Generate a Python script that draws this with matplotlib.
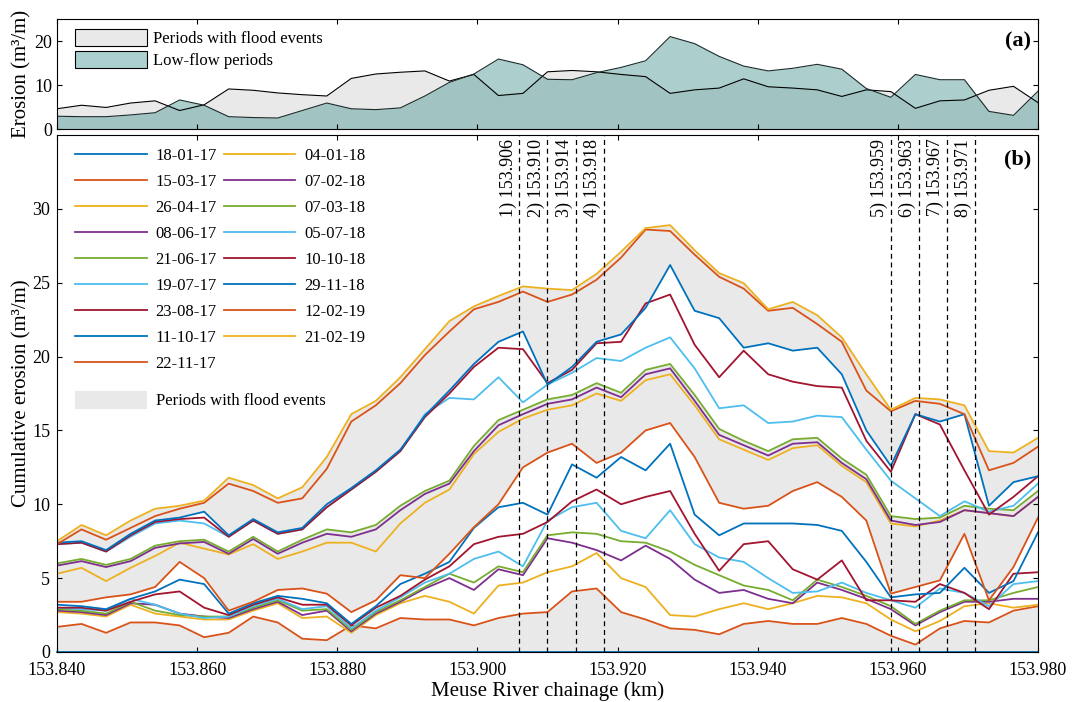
import numpy as np
import matplotlib
matplotlib.use("Agg")
import matplotlib.pyplot as plt
from matplotlib.patches import Patch

plt.rc("font", family=["Liberation Serif", "DejaVu Serif"], size=12)
plt.rc(["xtick", "ytick"], direction="in", labelsize=13)
plt.rc("xtick", top=True)
plt.rc("ytick", right=True)
plt.rc("axes", linewidth=0.8, labelsize=15)

# chainage grid (km) shared by every series
CHAINAGE = [153.8400, 153.8435, 153.8470, 153.8505, 153.8540, 153.8575, 153.8610,
            153.8645, 153.8680, 153.8715, 153.8750, 153.8785, 153.8820, 153.8855,
            153.8890, 153.8925, 153.8960, 153.8995, 153.9030, 153.9065, 153.9100,
            153.9135, 153.9170, 153.9205, 153.9240, 153.9275, 153.9310, 153.9345,
            153.9380, 153.9415, 153.9450, 153.9485, 153.9520, 153.9555, 153.9590,
            153.9625, 153.9660, 153.9695, 153.9730, 153.9765, 153.9800]

# panel (a): erosion per period type
FLOOD_EROSION = [4.6, 5.4, 4.9, 5.9, 6.4, 4.2, 5.5, 9.1, 8.8, 8.2, 7.8, 7.5, 11.5, 12.5,
                 12.9, 13.2, 10.9, 12.4, 7.6, 8.1, 13.0, 13.3, 13.0, 12.4, 11.9, 8.1,
                 8.9, 9.3, 11.4, 9.6, 9.3, 8.9, 7.4, 8.9, 8.5, 4.7, 6.4, 6.6, 8.8, 9.7, 6.0]
LOWFLOW_EROSION = [2.9, 2.8, 2.8, 3.2, 3.7, 6.6, 5.4, 2.8, 2.6, 2.5, 4.2, 5.9, 4.6, 4.4,
                   4.8, 7.5, 10.6, 12.5, 15.9, 14.6, 11.3, 11.2, 12.8, 14.0, 15.5, 21.0,
                   19.4, 16.5, 14.3, 13.2, 13.8, 14.7, 13.6, 9.2, 7.2, 12.4, 11.2, 11.2,
                   4.0, 3.1, 8.6]

# panel (b): cumulative erosion since 18-01-17
DATES = ["18-01-17", "15-03-17", "26-04-17", "08-06-17", "21-06-17", "19-07-17",
         "23-08-17", "11-10-17", "22-11-17", "04-01-18", "07-02-18", "07-03-18",
         "05-07-18", "10-10-18", "29-11-18", "12-02-19", "21-02-19"]

CUM_18_01_17 = [0.0] * 41
CUM_15_03_17 = [1.7, 1.9, 1.3, 2.0, 2.0, 1.8, 1.0, 1.3, 2.4, 2.0, 0.9, 0.8, 1.8, 1.6,
                2.3, 2.2, 2.2, 1.8, 2.3, 2.6, 2.7, 4.1, 4.3, 2.7, 2.2, 1.6, 1.5, 1.2,
                1.9, 2.1, 1.9, 1.9, 2.3, 1.9, 1.1, 0.5, 1.6, 2.1, 2.0, 2.8, 3.1]
CUM_26_04_17 = [2.7, 2.6, 2.4, 3.2, 2.6, 2.4, 2.2, 2.2, 2.8, 3.3, 2.3, 2.4, 1.3, 2.5,
                3.3, 3.8, 3.4, 2.6, 4.5, 4.7, 5.4, 5.8, 6.7, 5.0, 4.4, 2.5, 2.4, 2.9,
                3.3, 2.9, 3.3, 3.8, 3.7, 3.3, 2.2, 1.4, 2.1, 3.1, 3.3, 3.0, 3.2]
CUM_08_06_17 = [2.8, 2.7, 2.5, 3.3, 3.2, 2.6, 2.4, 2.3, 2.9, 3.4, 2.5, 2.8, 1.4, 2.6,
                3.4, 4.3, 5.0, 4.2, 5.6, 5.2, 7.7, 7.4, 6.9, 6.2, 7.2, 6.3, 4.9, 4.0,
                4.2, 3.6, 3.3, 4.7, 4.2, 3.6, 2.9, 1.8, 2.7, 3.4, 3.4, 3.6, 3.6]
CUM_21_06_17 = [2.9, 2.8, 2.6, 3.4, 2.8, 2.5, 2.4, 2.4, 3.0, 3.5, 2.8, 2.9, 1.5, 2.7,
                3.5, 4.4, 5.3, 4.7, 5.8, 5.4, 7.9, 8.1, 8.0, 7.5, 7.4, 6.8, 5.9, 5.2,
                4.5, 4.2, 3.5, 4.9, 4.4, 3.8, 3.1, 1.9, 2.8, 3.5, 3.5, 4.0, 4.4]
CUM_19_07_17 = [3.0, 2.9, 2.8, 3.6, 3.2, 2.6, 2.3, 2.4, 3.1, 3.6, 2.9, 3.1, 1.6, 2.8,
                3.7, 4.7, 5.3, 6.3, 6.8, 5.8, 8.9, 9.8, 10.1, 8.2, 7.7, 9.6, 7.3, 6.4,
                6.1, 5.0, 4.0, 4.1, 4.7, 4.0, 3.5, 3.0, 4.3, 4.0, 3.1, 4.6, 4.8]
CUM_23_08_17 = [3.0, 3.0, 2.8, 3.4, 3.9, 4.1, 3.0, 2.5, 3.2, 3.7, 3.2, 3.2, 1.8, 3.0,
                3.8, 4.9, 5.8, 7.3, 7.8, 8.0, 8.8, 10.2, 11.0, 10.0, 10.5, 10.9, 8.0, 5.5,
                7.3, 7.5, 5.6, 4.9, 6.2, 3.5, 3.5, 3.4, 4.6, 4.0, 2.9, 5.3, 5.4]
CUM_11_10_17 = [3.2, 3.1, 2.9, 3.6, 4.1, 4.9, 4.6, 2.6, 3.3, 3.8, 3.6, 3.3, 1.9, 3.1,
                4.6, 5.3, 6.1, 8.4, 9.8, 10.1, 9.3, 12.7, 11.8, 13.2, 12.3, 14.1, 9.3, 7.9,
                8.7, 8.7, 8.7, 8.6, 8.2, 6.1, 3.7, 3.9, 4.0, 5.7, 4.0, 4.8, 8.1]
CUM_22_11_17 = [3.4, 3.4, 3.7, 3.9, 4.4, 6.1, 5.0, 2.8, 3.4, 4.2, 4.3, 3.95, 2.7, 3.5,
                5.2, 5.0, 6.65, 8.45, 10.0, 12.5, 13.5, 14.1, 12.8, 13.5, 15.0, 15.5, 13.2,
                10.1, 9.7, 9.9, 10.9, 11.5, 10.5, 8.9, 3.95, 4.4, 4.85, 8.0, 3.5, 5.75, 9.1]
CUM_04_01_18 = [5.3, 5.7, 4.8, 5.7, 6.5, 7.4, 7.0, 6.6, 7.3, 6.3, 6.8, 7.4, 7.4, 6.8,
                8.7, 10.1, 11.0, 13.4, 14.9, 15.8, 16.4, 16.7, 17.5, 17.0, 18.4, 18.8, 16.7,
                14.4, 13.7, 13.0, 13.8, 14.0, 12.6, 11.5, 8.7, 8.5, 8.9, 9.6, 9.4, 9.2, 10.5]
CUM_07_02_18 = [5.85, 6.15, 5.75, 6.15, 7.05, 7.35, 7.45, 6.65, 7.65, 6.65, 7.4, 8.0, 7.8,
                8.3, 9.6, 10.7, 11.4, 13.6, 15.35, 16.1, 16.8, 17.1, 17.9, 17.25, 18.8, 19.2,
                17.0, 14.7, 14.0, 13.3, 14.1, 14.2, 12.8, 11.7, 8.9, 8.6, 8.8, 9.6, 9.4, 9.2,
                10.5]
CUM_07_03_18 = [6.0, 6.3, 5.9, 6.3, 7.2, 7.5, 7.6, 6.8, 7.8, 6.8, 7.6, 8.3, 8.1, 8.6,
                9.9, 10.9, 11.6, 13.95, 15.7, 16.4, 17.1, 17.4, 18.2, 17.55, 19.1, 19.5,
                17.4, 15.1, 14.3, 13.6, 14.4, 14.5, 13.1, 12.0, 9.2, 9.0, 9.1, 9.9, 9.7,
                9.6, 10.9]
CUM_05_07_18 = [7.3, 7.4, 6.8, 7.8, 8.7, 8.9, 8.7, 7.8, 8.9, 8.0, 8.3, 9.8, 11.0, 12.2,
                13.6, 16.1, 17.2, 17.1, 18.6, 16.9, 18.1, 18.9, 19.9, 19.7, 20.6, 21.3,
                19.2, 16.5, 16.7, 15.5, 15.6, 16.0, 15.9, 13.7, 11.6, 10.4, 9.2, 10.2, 9.5,
                9.9, 11.4]
CUM_10_10_18 = [7.3, 7.4, 6.8, 7.9, 8.8, 9.0, 9.1, 7.8, 8.9, 8.0, 8.3, 9.8, 11.0, 12.2,
                13.6, 15.9, 17.5, 19.3, 20.6, 20.5, 18.2, 19.1, 20.9, 21.0, 23.6, 24.2,
                20.8, 18.6, 20.4, 18.8, 18.3, 18.0, 17.9, 14.3, 12.2, 16.1, 15.4, 12.3, 9.3,
                10.5, 11.9]
CUM_29_11_18 = [7.4, 7.5, 6.9, 8.0, 8.9, 9.1, 9.5, 7.9, 9.0, 8.1, 8.4, 10.0, 11.1, 12.3,
                13.7, 16.0, 17.7, 19.5, 21.0, 21.7, 18.1, 19.3, 21.0, 21.5, 23.3, 26.2,
                23.1, 22.6, 20.6, 20.9, 20.4, 20.6, 18.8, 15.0, 12.6, 16.1, 15.6, 16.1, 9.9,
                11.5, 11.9]
CUM_12_02_19 = [7.3, 8.3, 7.6, 8.4, 9.2, 9.7, 10.1, 11.4, 10.9, 10.1, 10.4, 12.4, 15.6,
                16.7, 18.2, 20.1, 21.7, 23.2, 23.7, 24.4, 23.7, 24.2, 25.2, 26.7, 28.6, 28.5,
                26.9, 25.4, 24.6, 23.1, 23.3, 22.2, 21.0, 17.7, 16.3, 17.0, 16.8, 16.1, 12.3,
                12.8, 13.9]
CUM_21_02_19 = [7.5, 8.6, 7.9, 8.9, 9.7, 9.9, 10.25, 11.8, 11.3, 10.4, 11.15, 13.2, 16.1,
                17.0, 18.6, 20.5, 22.4, 23.4, 24.1, 24.75, 24.6, 24.5, 25.6, 27.1, 28.7,
                28.9, 27.2, 25.65, 24.97, 23.2, 23.7, 22.8, 21.3, 18.8, 16.4, 17.2, 17.1,
                16.7, 13.6, 13.5, 14.5]

SERIES = [CUM_18_01_17, CUM_15_03_17, CUM_26_04_17, CUM_08_06_17, CUM_21_06_17,
          CUM_19_07_17, CUM_23_08_17, CUM_11_10_17, CUM_22_11_17, CUM_04_01_18,
          CUM_07_02_18, CUM_07_03_18, CUM_05_07_18, CUM_10_10_18, CUM_29_11_18,
          CUM_12_02_19, CUM_21_02_19]

# periods (index of start survey) that contain flood events
FLOOD_PERIODS = [0, 8, 9, 10, 14, 15]

SECTION_POS = [153.906, 153.910, 153.914, 153.918, 153.959, 153.963, 153.967, 153.971]
SECTION_LBL = ["1) 153.906", "2) 153.910", "3) 153.914", "4) 153.918",
               "5) 153.959", "6) 153.963", "7) 153.967", "8) 153.971"]

MATLAB_COLORS = ["#0072BD", "#D95319", "#EDB120", "#7E2F8E", "#77AC30", "#4DBEEE", "#A2142F"]
GREY = "#e9e9e9"
TEAL = "#5a9e9c"


def main():
    x = np.array(CHAINAGE)
    fig = plt.figure(figsize=(10.73, 7.02), dpi=100)
    ax_a = fig.add_axes([57 / 1073, 1 - 129 / 702, 981 / 1073, 110 / 702])
    ax_b = fig.add_axes([57 / 1073, 1 - 652 / 702, 981 / 1073, 517 / 702])

    # ---- (a)
    ax_a.fill_between(x, 0, FLOOD_EROSION, color=GREY, lw=0)
    ax_a.fill_between(x, 0, LOWFLOW_EROSION, color=TEAL, alpha=0.5, lw=0)
    ax_a.plot(x, FLOOD_EROSION, color="k", lw=0.8)
    ax_a.plot(x, LOWFLOW_EROSION, color="#1a2a2a", lw=0.8)
    ax_a.set_xlim(153.84, 153.98)
    ax_a.set_ylim(0, 25)
    ax_a.set_yticks([0, 10, 20])
    ax_a.set_xticks(np.arange(153.84, 153.981, 0.02))
    ax_a.tick_params(labelbottom=False)
    ax_a.set_ylabel("Erosion (m³/m)", labelpad=2)
    ax_a.text(0.993, 0.8, "(a)", transform=ax_a.transAxes, ha="right", va="center",
              fontsize=16, fontweight="bold")
    handles_a = [Patch(facecolor=GREY, edgecolor="k", lw=0.8, label="Periods with flood events"),
                 Patch(facecolor="#acd0cf", edgecolor="k", lw=0.8, label="Low-flow periods")]
    ax_a.legend(handles=handles_a, loc="upper left", bbox_to_anchor=(0.008, 1.0),
                frameon=False, handlelength=4.3, handleheight=1.15, handletextpad=0.4,
                labelspacing=0.25, borderaxespad=0.2, fontsize=12)

    # ---- (b)
    for k in FLOOD_PERIODS:
        ax_b.fill_between(x, SERIES[k], SERIES[k + 1], color=GREY, lw=0, zorder=1)

    lines = []
    for i, (lbl, y) in enumerate(zip(DATES, SERIES)):
        ln, = ax_b.plot(x, y, color=MATLAB_COLORS[i % 7], lw=1.3, label=lbl, zorder=2,
                        clip_on=(i != 0))
        lines.append(ln)

    for xp, lbl in zip(SECTION_POS, SECTION_LBL):
        ax_b.axvline(xp, color="k", ls=(0, (4, 3)), lw=0.9, zorder=3)
        ax_b.text(xp - 0.0004, 34.75, lbl, rotation=90, ha="right", va="top", fontsize=13)

    ax_b.set_xlim(153.84, 153.98)
    ax_b.set_ylim(0, 35)
    ax_b.set_yticks(np.arange(0, 31, 5))
    ax_b.set_xticks(np.arange(153.84, 153.981, 0.02))
    ax_b.xaxis.set_major_formatter(plt.FormatStrFormatter("%.3f"))
    ax_b.tick_params(axis="x", pad=7)
    ax_b.tick_params(axis="y", pad=5)
    ax_b.set_xlabel("Meuse River chainage (km)", labelpad=2)
    ax_b.set_ylabel("Cumulative erosion (m³/m)", labelpad=0)
    ax_b.text(0.993, 0.953, "(b)", transform=ax_b.transAxes, ha="right", va="center",
              fontsize=16, fontweight="bold")

    leg = ax_b.legend(handles=lines, ncol=2, loc="upper left", bbox_to_anchor=(0.008, 0.994),
                      frameon=False, handlelength=4.3, handletextpad=0.55, columnspacing=0.4,
                      labelspacing=0.6, borderaxespad=0.2, fontsize=12)
    ax_b.add_artist(leg)
    ax_b.legend(handles=[Patch(facecolor=GREY, edgecolor="none", label="Periods with flood events")],
                loc="upper left", bbox_to_anchor=(0.008, 0.525), frameon=False,
                handlelength=4.3, handleheight=1.3, handletextpad=0.55,
                borderaxespad=0.2, fontsize=12)

    fig.savefig("out.png", dpi=100)


if __name__ == "__main__":
    main()
